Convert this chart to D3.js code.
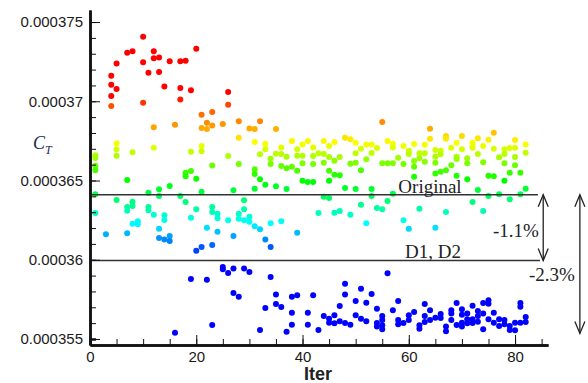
<!DOCTYPE html>
<html>
<head>
<meta charset="utf-8">
<script src="https://cdn.jsdelivr.net/npm/d3@7"></script>
<style>
  body { margin: 0; background: #fff; }
  svg { display: block; }
</style>
</head>
<body>
<script>
const width = 588;
const height = 383;

// thrust coefficient samples, in units of 1e-6, one row per iteration
const ctEarly = [
  [1, [366.59, 366.42, 365.93, 365.64, 364.13, 362.95]],
  [3, [361.61]],
  [4, [371.61, 371.04, 370.33, 369.70]],
  [5, [372.39, 370.77, 367.35, 366.97, 366.56, 363.77]],
  [7, [373.06, 365.03, 363.33, 363.09, 361.67]],
  [8, [373.15, 366.78, 363.66, 363.39, 362.27]],
  [9, [362.43, 362.24]],
  [10, [374.07, 372.46, 369.91]],
  [11, [371.80, 364.23, 363.33, 363.12]],
  [12, [373.15, 372.71, 368.36, 367.07, 362.84]],
  [13, [372.77, 371.85, 364.45, 364.02, 361.96, 361.37]],
  [14, [370.94, 362.80, 362.51, 361.27]],
  [15, [372.52, 364.65, 361.50, 361.18]],
  [16, [368.52, 355.40]],
  [17, [372.52, 370.84, 370.12, 364.02]],
  [18, [372.56, 365.49, 365.27, 363.64]],
  [19, [370.69, 366.82, 365.60, 362.65, 358.79]],
  [20, [373.32, 365.11, 363.18, 360.57]],
  [21, [369.15, 368.31, 367.18, 366.84, 364.29, 360.80]],
  [22, [368.65, 368.25, 362.02, 358.74]],
  [23, [369.32, 368.47, 365.95, 363.33, 363.01, 360.93, 355.88]],
  [24, [362.91, 362.62, 361.77]],
  [25, [368.56, 359.54, 359.40]],
  [26, [370.58, 369.78, 366.55, 362.49, 359.16]],
  [27, [364.38, 361.50, 359.44, 357.90]],
  [28, [368.74, 367.70, 366.04, 362.91, 362.59, 357.67]],
  [29, [363.75, 363.18, 362.49, 359.44]],
  [30, [368.29, 362.72, 362.40, 359.23]]
];

const ctLate = [
  [31, [368.25, 367.43, 365.71, 365.41, 364.48, 362.11]],
  [32, [368.74, 366.65, 365.08, 361.92, 355.57]],
  [33, [367.32, 366.97, 364.74, 361.27, 356.96]],
  [34, [366.38, 366.04, 362.30, 360.80, 358.91]],
  [35, [368.25, 366.69, 364.63, 357.80, 357.21]],
  [36, [367.09, 366.67, 365.92, 362.43, 357.02]],
  [37, [366.50, 365.77, 364.46, 355.46]],
  [38, [367.49, 365.87, 357.67, 356.66, 355.90]],
  [39, [366.97, 366.56, 365.62, 361.71, 357.76]],
  [40, [367.28, 366.56, 366.09, 364.99]],
  [41, [367.49, 364.91, 356.66, 355.90]],
  [42, [367.09, 366.55, 366.04, 364.91, 357.76]],
  [43, [366.72, 362.95, 355.57]],
  [44, [367.49, 366.67, 366.12, 363.98, 356.45]],
  [45, [367.18, 366.48, 365.62, 364.99, 363.90, 356.28, 356.03]],
  [46, [367.43, 366.25, 365.37, 362.97, 356.50, 355.99]],
  [47, [366.48, 365.33, 363.08, 357.08, 356.12]],
  [48, [367.70, 364.53, 358.49, 357.80, 356.01]],
  [49, [367.60, 366.06, 362.84, 355.90]],
  [50, [367.39, 366.72, 366.12, 364.46, 357.40, 356.50]],
  [51, [367.01, 365.64, 363.47, 358.17, 356.28]],
  [52, [367.28, 366.34, 362.30, 357.29, 356.12]],
  [53, [367.28, 366.74, 364.46, 364.02, 357.84]],
  [54, [367.05, 363.27, 356.91, 356.01, 355.78]],
  [55, [368.69, 366.09, 363.18, 356.45, 356.20, 355.86, 355.61]],
  [56, [367.49, 366.09, 363.71, 359.15]],
  [57, [367.32, 367.09, 366.09, 364.17, 356.81]],
  [58, [366.44, 357.40, 356.20, 355.93]],
  [59, [367.18, 366.04, 362.49, 356.01]],
  [60, [366.88, 366.67, 361.96, 356.50, 356.20]],
  [61, [367.30, 366.23, 365.87, 365.24, 356.70]],
  [62, [366.72, 366.40, 363.22, 355.86, 355.65]],
  [63, [367.26, 366.72, 366.19, 357.21, 356.45, 356.07]],
  [64, [368.27, 367.64, 356.81, 356.20]],
  [65, [366.92, 366.50, 366.12, 365.45, 362.02, 356.34]],
  [66, [366.88, 366.65, 365.56, 356.58, 356.33]],
  [67, [367.81, 367.64, 365.64, 363.01, 355.78, 355.49]],
  [68, [367.07, 365.96, 356.81, 356.60, 356.20]],
  [69, [367.39, 366.50, 366.36, 365.30, 357.27, 355.88]],
  [70, [367.81, 366.97, 356.87, 356.53, 356.03, 355.78]],
  [71, [366.40, 366.09, 365.08, 356.60, 356.24, 355.99]],
  [72, [367.39, 367.26, 367.07, 363.64, 357.10, 356.24, 356.01]],
  [73, [367.66, 366.67, 364.40, 356.77, 356.45, 356.09]],
  [74, [367.18, 366.15, 363.08, 357.27, 356.60, 355.61]],
  [75, [367.57, 365.30, 364.02, 357.44, 357.23, 356.24]],
  [76, [368.02, 367.01, 365.27, 356.66, 356.03]],
  [77, [366.46, 364.13, 356.24, 355.82]],
  [78, [366.97, 366.67, 366.09, 364.99, 356.20, 355.93]],
  [79, [367.05, 365.49, 363.81, 355.82, 355.57]],
  [80, [367.56, 367.07, 366.48, 365.96, 356.03, 355.55]],
  [81, [365.49, 364.13, 357.27, 357.04, 356.03]],
  [82, [367.28, 366.75, 364.48, 356.39, 356.07]]
];

const xTicks = [0, 20, 40, 60, 80];
const yTicks = [0.000355, 0.00036, 0.000365, 0.00037, 0.000375];
const yTickLabels = ["0.000355", "0.00036", "0.000365", "0.00037", "0.000375"];

// reference levels: original design and D1/D2
const ctOriginal = 0.0003641;
const ctDesign = 0.00035995;
const ctDrop = 0.00035535;

// contour colour levels (value -> colour)
const colorLevels = [360.0e-6, 361.3e-6, 362.3e-6, 363.5e-6, 365.0e-6, 366.5e-6, 367.4e-6, 368.5e-6, 369.7e-6, 370.3e-6];
const colorStops = ["#0000ff", "#008cff", "#00ffff", "#00ff8c", "#00ff00", "#aaff00", "#ffff00", "#ff9600", "#ff5000", "#ff0000"];

const points = [];
ctEarly.concat(ctLate).forEach(([it, vals]) => {
  vals.forEach(v => points.push({ iter: it, ct: v * 1e-6 }));
});

const svg = d3.select("body").append("svg")
  .attr("width", width)
  .attr("height", height);

svg.append("rect").attr("width", width).attr("height", height).attr("fill", "#fff");

const x = d3.scaleLinear().domain([0, 86.2]).range([90, 548]);
const y = d3.scaleLinear().domain([0.00035462, 0.00037576]).range([345, 10]);
const color = d3.scaleLinear().domain(colorLevels).range(colorStops).clamp(true);

// points
svg.append("g")
  .selectAll("circle")
  .data(points)
  .enter()
  .append("circle")
  .attr("cx", d => x(d.iter))
  .attr("cy", d => y(d.ct))
  .attr("r", 3)
  .attr("fill", d => color(d.ct));

// reference lines
svg.append("line")
  .attr("x1", x(0)).attr("x2", x(84.3))
  .attr("y1", y(ctOriginal)).attr("y2", y(ctOriginal))
  .attr("stroke", "#333").attr("stroke-width", 1.5);
svg.append("line")
  .attr("x1", x(0)).attr("x2", x(84.7))
  .attr("y1", y(ctDesign)).attr("y2", y(ctDesign))
  .attr("stroke", "#333").attr("stroke-width", 1.5);

// axes
const yAxis = d3.axisLeft(y)
  .tickValues(yTicks)
  .tickFormat((d, i) => yTickLabels[i])
  .tickSize(-10)
  .tickSizeOuter(0)
  .tickPadding(7);
const yMinor = d3.axisLeft(y)
  .tickValues(d3.range(355, 376).map(v => v * 1e-6))
  .tickFormat("")
  .tickSize(-6)
  .tickSizeOuter(0);
const xAxis = d3.axisBottom(x)
  .tickValues(xTicks)
  .tickSize(-10)
  .tickSizeOuter(0)
  .tickPadding(6);
const xMinor = d3.axisBottom(x)
  .tickValues(d3.range(0, 86, 5))
  .tickFormat("")
  .tickSize(-6)
  .tickSizeOuter(0);

const gy = svg.append("g").attr("transform", `translate(${x(0)},0)`);
gy.call(yMinor);
gy.append("g").call(yAxis);
const gx = svg.append("g").attr("transform", `translate(0,${y.range()[0]})`);
gx.call(xMinor);
gx.append("g").call(xAxis);

svg.selectAll(".domain").attr("stroke", "#111").attr("stroke-width", 2.5);
svg.selectAll(".tick line").attr("stroke", "#111").attr("stroke-width", 1);
gy.select("g").selectAll(".tick line").attr("stroke-width", 2.5);
gx.select("g").selectAll(".tick line").attr("stroke-width", 2.5);
svg.selectAll(".tick text")
  .attr("font-family", "Liberation Sans, Arial, sans-serif")
  .attr("font-size", 15)
  .attr("fill", "#1a1a1a");

// axis titles
svg.append("text")
  .attr("x", 318).attr("y", 380)
  .attr("text-anchor", "middle")
  .attr("font-family", "Liberation Sans, Arial, sans-serif")
  .attr("font-weight", "bold")
  .attr("font-size", 18)
  .attr("fill", "#222")
  .text("Iter");

const ct = svg.append("text")
  .attr("x", 33).attr("y", 149)
  .attr("font-family", "Liberation Serif, Times New Roman, serif")
  .attr("font-style", "italic")
  .attr("fill", "#1e2c4e");
ct.append("tspan").attr("font-size", 18).text("C");
ct.append("tspan").attr("font-size", 12).attr("dy", 5).text("T");

// annotations
const serif = "Liberation Serif, Times New Roman, serif";
function note(tx, ty, str) {
  svg.append("text")
    .attr("x", tx).attr("y", ty)
    .attr("text-anchor", "middle")
    .attr("font-family", serif)
    .attr("font-size", 19)
    .attr("fill", "#222")
    .text(str);
}
note(430, y(ctOriginal) - 1.5, "Original");
note(433, y(ctDesign) - 2.5, "D1, D2");
note(516, 237, "-1.1%");
note(552, 281, "-2.3%");

function arrow(ax, v1, v2) {
  const y1 = y(v1), y2 = y(v2);
  const g = svg.append("g").attr("stroke", "#222").attr("stroke-width", 1.3).attr("fill", "none");
  g.append("line").attr("x1", ax).attr("x2", ax).attr("y1", y1).attr("y2", y2);
  g.append("path").attr("d", `M${ax - 5},${y1 + 12}L${ax},${y1}L${ax + 5},${y1 + 12}`);
  g.append("path").attr("d", `M${ax - 5},${y2 - 12}L${ax},${y2}L${ax + 5},${y2 - 12}`);
}
arrow(x(85.3), ctOriginal, ctDesign);
arrow(x(92.2), ctOriginal, ctDrop);
</script>
</body>
</html>
